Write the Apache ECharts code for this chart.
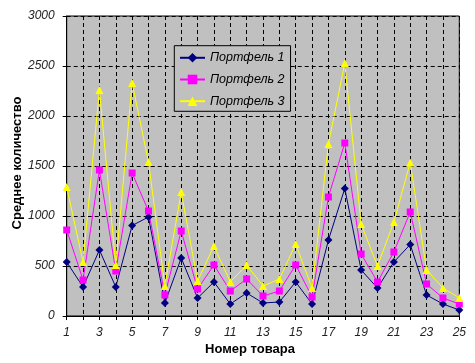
<!DOCTYPE html>
<html>
<head>
<meta charset="utf-8">
<script src="https://cdn.jsdelivr.net/npm/echarts@6/dist/echarts.min.js"></script>
<style>html,body{margin:0;padding:0;background:#fff}#c{width:475px;height:363px}</style>
</head>
<body>
<div id="c"></div>
<script>
const categories = ['1','2','3','4','5','6','7','8','9','10','11','12','13','14','15','16','17','18','19','20','21','22','23','24','25'];
const portfolio1 = [540,290,660,290,905,990,130,580,180,340,120,230,130,140,340,120,760,1275,460,280,540,715,210,120,60];
const portfolio2 = [860,360,1460,450,1430,1050,210,850,270,510,250,370,200,250,510,190,1190,1730,620,340,640,1040,320,180,120];
const portfolio3 = [1290,540,2260,510,2330,1540,300,1240,350,700,340,510,300,370,720,280,1720,2530,920,500,940,1535,460,280,180];
const seriesNames = ['Портфель 1','Портфель 2','Портфель 3'];
const yTitle = 'Среднее количество';
const xTitle = 'Номер товара';

const chart = echarts.init(document.getElementById('c'), null, {renderer:'canvas'});
const font = 'Arial, "Liberation Sans", sans-serif';
const dash = [4,3];
chart.setOption({
  animation:false,
  backgroundColor:'#fff',
  grid:{left:66.7, right:15.7, top:16, bottom:47, show:true, backgroundColor:'#C0C0C0', borderColor:'#000', borderWidth:1, containLabel:false},
  legend:{
    orient:'vertical', left:174.3, top:45.7,
    backgroundColor:'#C0C0C0', borderColor:'#000', borderWidth:1,
    padding:[5.6,6,3.6,4.7],
    itemWidth:25, itemHeight:12, itemGap:8.7,
    textStyle:{fontFamily:font, fontStyle:'italic', fontSize:12.5, color:'#000'},
    data:seriesNames
  },
  xAxis:{
    type:'category', data:categories, boundaryGap:false,
    axisLine:{lineStyle:{color:'#000', width:1}},
    axisTick:{show:true, interval:0, length:4, lineStyle:{color:'#000'}},
    axisLabel:{interval:1, margin:11, fontFamily:font, fontStyle:'italic', fontSize:12, color:'#222'},
    splitLine:{show:true, interval:0, lineStyle:{color:'#000', type:dash, width:1}}
  },
  yAxis:{
    type:'value', min:0, max:3000, interval:500,
    axisLine:{show:true, lineStyle:{color:'#000', width:1}},
    axisTick:{show:true, length:4, lineStyle:{color:'#000'}},
    axisLabel:{margin:12, fontFamily:font, fontStyle:'italic', fontSize:12, color:'#222', formatter:function(v){return String(v);}},
    splitLine:{show:true, lineStyle:{color:'#000', type:dash, width:1}}
  },
  graphic:[
    {type:'text', style:{text:xTitle, x:250, y:349, align:'center', verticalAlign:'middle', font:'bold 13px '+font, fill:'#000'}},
    {type:'text', rotation:Math.PI/2, x:17, y:163, style:{text:yTitle, x:0, y:0, align:'center', verticalAlign:'middle', font:'bold 13px '+font, fill:'#000'}}
  ],
  series:[
    {name:seriesNames[0], type:'line', data:portfolio1, symbol:'diamond', symbolSize:8, showAllSymbol:true,
     itemStyle:{color:'#000080'}, lineStyle:{color:'#000080', width:1}},
    {name:seriesNames[1], type:'line', data:portfolio2, symbol:'rect', symbolSize:7, showAllSymbol:true,
     itemStyle:{color:'#FF00FF'}, lineStyle:{color:'#FF00FF', width:1}},
    {name:seriesNames[2], type:'line', data:portfolio3, symbol:'triangle', symbolSize:8, showAllSymbol:true,
     itemStyle:{color:'#FFFF00'}, lineStyle:{color:'#FFFF00', width:1}}
  ]
});
</script>
</body>
</html>
